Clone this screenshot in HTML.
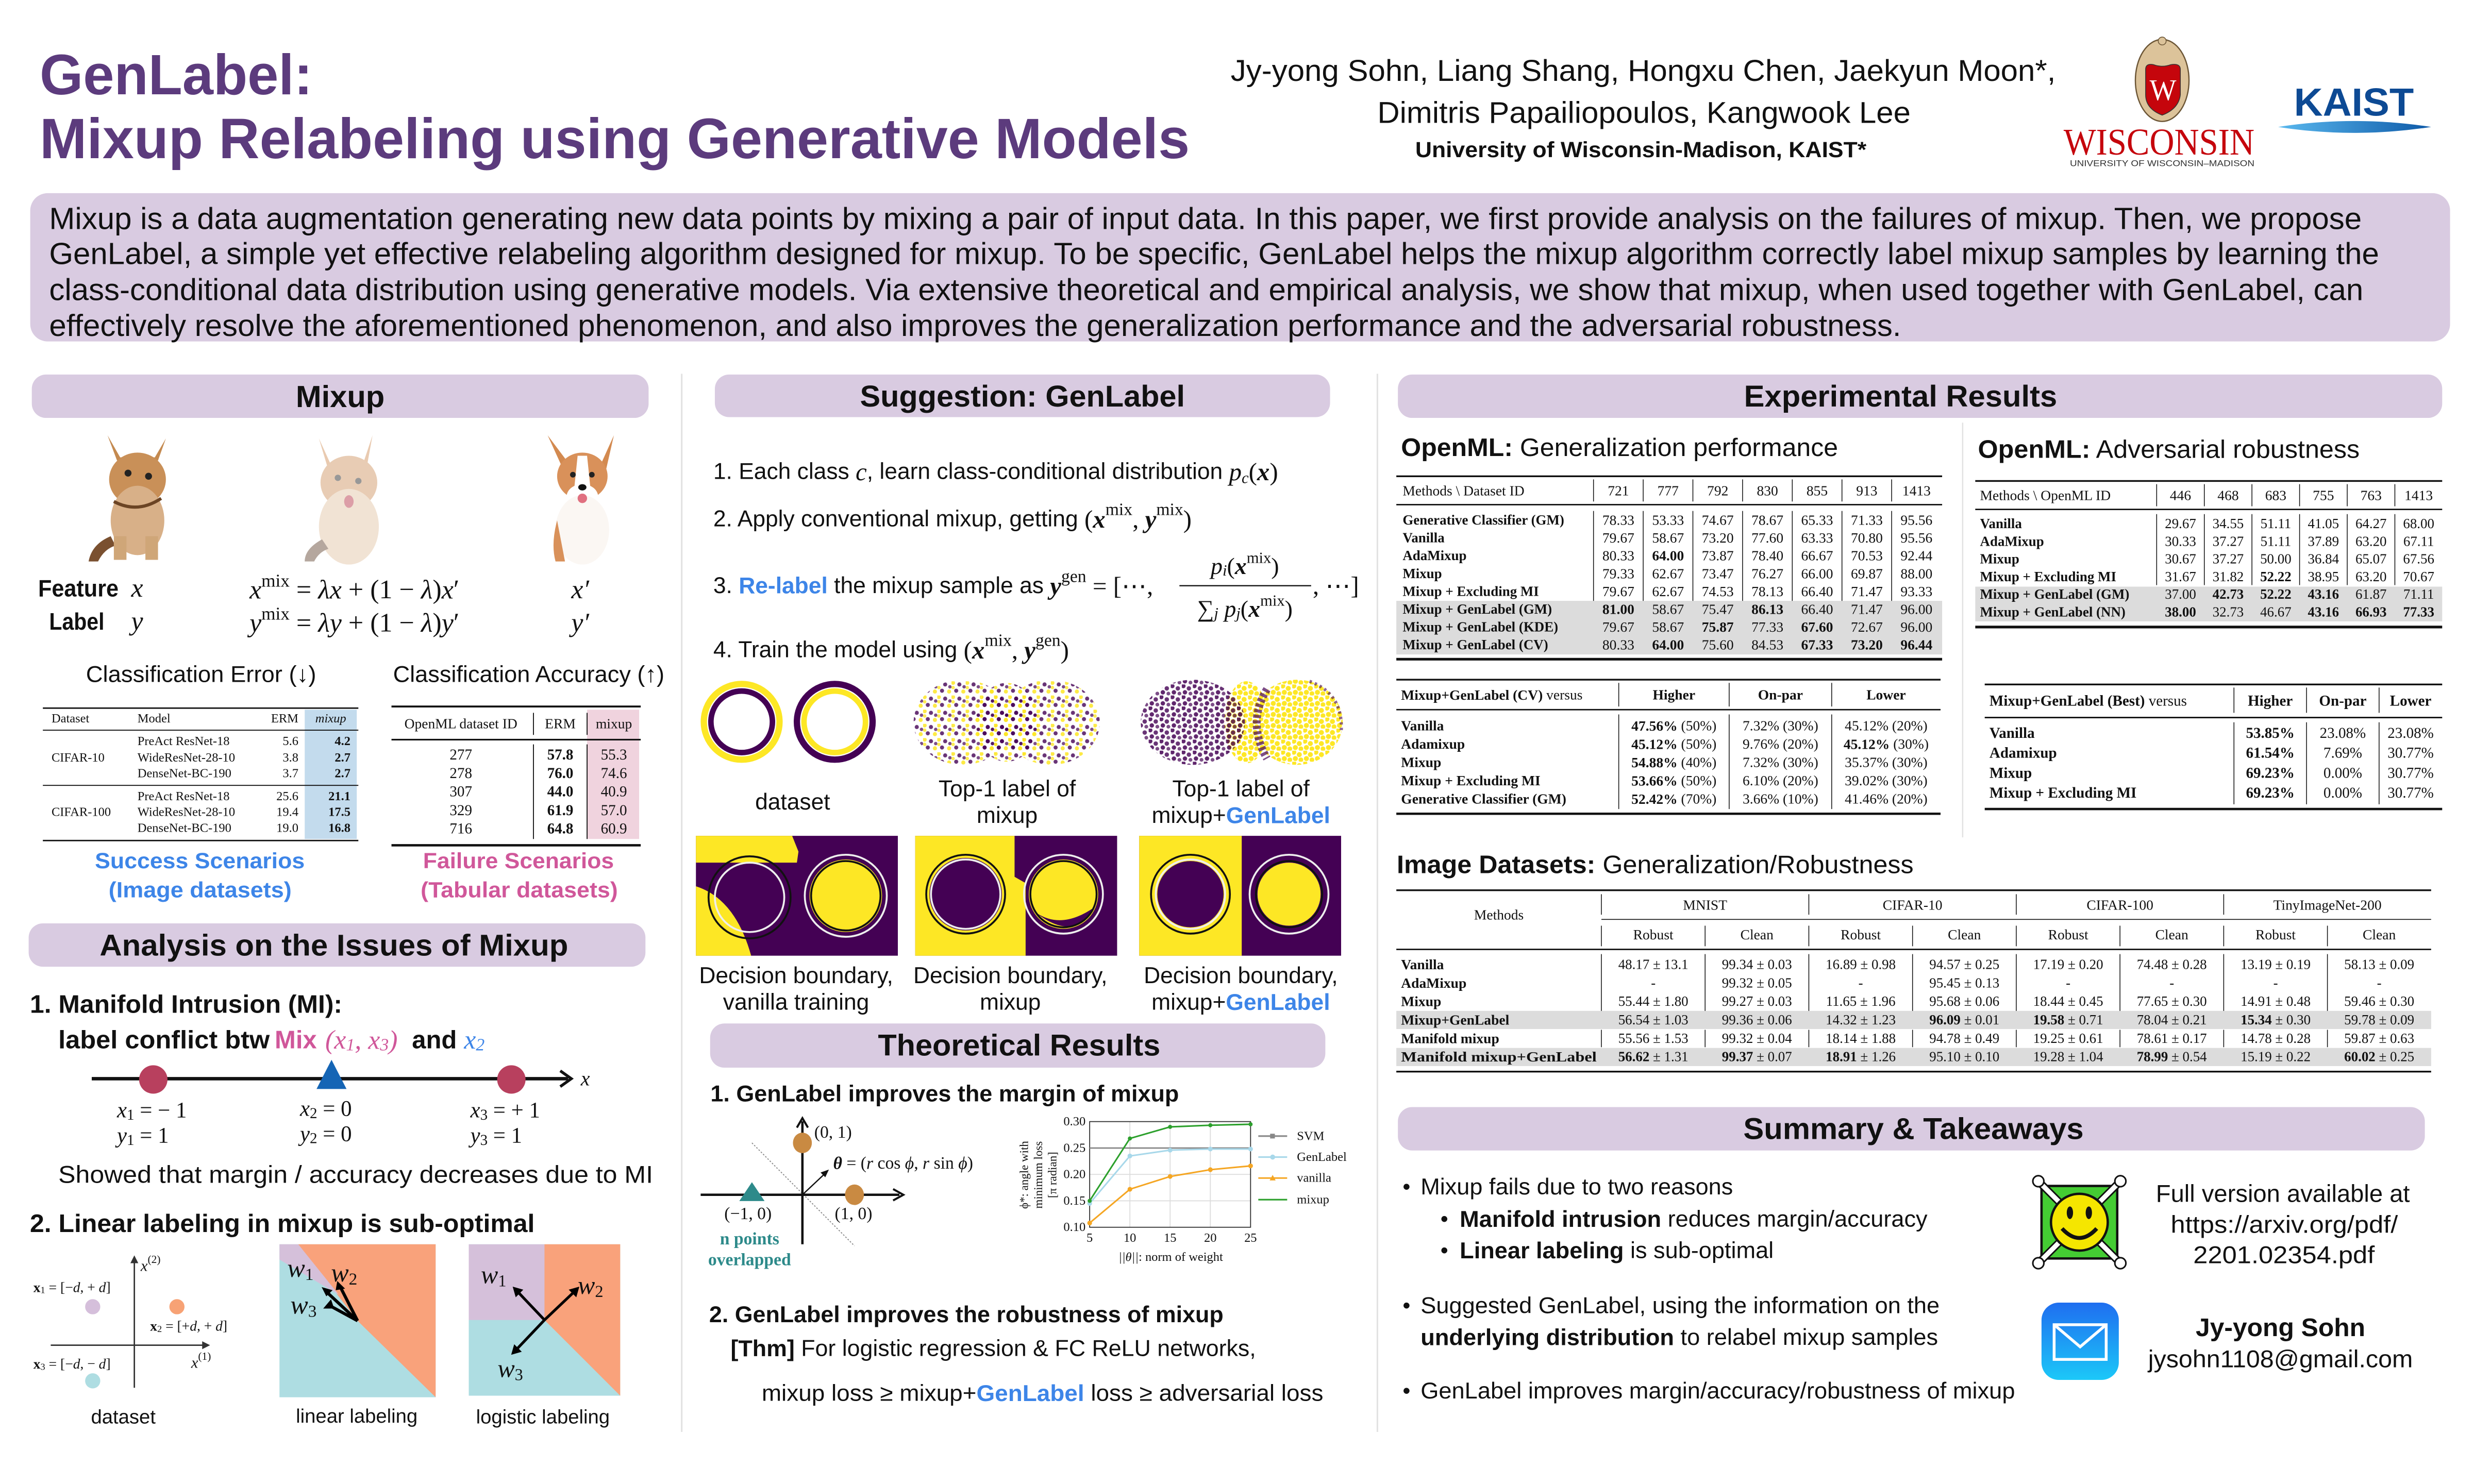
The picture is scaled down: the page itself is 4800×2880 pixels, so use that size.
<!DOCTYPE html>
<html><head><meta charset="utf-8">
<style>
html,body{margin:0;padding:0;background:#fff;}
svg{display:block;}
text{font-family:"Liberation Sans",sans-serif;fill:#111;dominant-baseline:central;}
.s{font-family:"Liberation Serif",serif;}
.b{font-weight:bold;}
.i{font-style:italic;}
.m{text-anchor:middle;}
.e{text-anchor:end;}
</style></head><body>
<svg width="4800" height="2880" viewBox="0 0 1568 941" xmlns="http://www.w3.org/2000/svg">
<defs>
<pattern id="pm" width="9" height="9" patternUnits="userSpaceOnUse">
<circle cx="1" cy="1" r="1.3" fill="#fde725" opacity=".85"/><circle cx="5" cy="2" r="1.3" fill="#440154" opacity=".8"/>
<circle cx="3" cy="6" r="1.3" fill="#440154" opacity=".8"/><circle cx="7.5" cy="6.5" r="1.3" fill="#fde725" opacity=".85"/>
<circle cx="8" cy="3.5" r="1.1" fill="#440154" opacity=".7"/><circle cx="1" cy="4" r="1.1" fill="#fde725" opacity=".8"/></pattern>
<pattern id="pp" width="7" height="7" patternUnits="userSpaceOnUse">
<circle cx="1" cy="1" r="1.4" fill="#440154" opacity=".85"/><circle cx="4.5" cy="2.5" r="1.4" fill="#440154" opacity=".8"/>
<circle cx="2" cy="5" r="1.4" fill="#440154" opacity=".85"/><circle cx="5.5" cy="5.8" r="1.2" fill="#440154" opacity=".7"/></pattern>
<pattern id="py" width="7" height="7" patternUnits="userSpaceOnUse">
<circle cx="1" cy="1" r="1.6" fill="#fde725"/><circle cx="4.5" cy="2.5" r="1.6" fill="#fde725"/>
<circle cx="2" cy="5" r="1.6" fill="#fde725"/><circle cx="5.5" cy="5.8" r="1.5" fill="#fde725"/></pattern>
<linearGradient id="mg" x1="0" y1="0" x2="0" y2="1"><stop offset="0" stop-color="#1f6ef0"/><stop offset="1" stop-color="#1cc8f8"/></linearGradient>
<linearGradient id="kg" x1="0" y1="0" x2="1" y2="0"><stop offset="0" stop-color="#5ab8ee"/><stop offset="1" stop-color="#0e5aa8"/></linearGradient>
</defs>

<!-- Title -->
<text x="25" y="47.5" class="b" font-size="36" fill="#5c3b7d" style="fill:#5c3b7d" textLength="173" lengthAdjust="spacingAndGlyphs">GenLabel:</text>
<text x="25" y="88" class="b" font-size="36" style="fill:#5c3b7d" textLength="729" lengthAdjust="spacingAndGlyphs">Mixup Relabeling using Generative Models</text>
<text x="780" y="45" font-size="19" textLength="523" lengthAdjust="spacingAndGlyphs">Jy-yong Sohn, Liang Shang, Hongxu Chen, Jaekyun Moon*,</text>
<text x="873" y="71.5" font-size="19" textLength="338" lengthAdjust="spacingAndGlyphs">Dimitris Papailiopoulos, Kangwook Lee</text>
<text x="897" y="95" font-size="14" class="b" textLength="286" lengthAdjust="spacingAndGlyphs">University of Wisconsin-Madison, KAIST*</text>

<!-- Wisconsin logo -->
<ellipse cx="1370.5" cy="51" rx="17" ry="26" fill="#dcc39a" stroke="#6b5535" stroke-width="0.8"/>
<circle cx="1370.5" cy="26" r="2.5" fill="#dcc39a" stroke="#6b5535" stroke-width="0.5"/>
<path d="M1360,44 Q1360,40 1365,41 Q1370.5,43 1376,41 Q1382,40 1382,44 L1382,60 Q1381,69 1370.5,73 Q1360,69 1360,60 Z" fill="#c5050c" stroke="#333" stroke-width="0.5"/>
<text x="1371" y="57" class="s m" font-size="19" style="fill:#fff" textLength="17" lengthAdjust="spacingAndGlyphs">W</text>
<text x="1308" y="90" class="s" font-size="24" style="fill:#c5050c" textLength="121" lengthAdjust="spacingAndGlyphs">WISCONSIN</text>
<text x="1312" y="103.5" font-size="5.5" style="fill:#333" textLength="117" lengthAdjust="spacingAndGlyphs">UNIVERSITY OF WISCONSIN–MADISON</text>
<text x="1454" y="65" class="b" font-size="25" style="fill:#0d4a94" textLength="76" lengthAdjust="spacingAndGlyphs">KAIST</text>
<path d="M1444,80.5 Q1492,73 1541,80.5 Q1492,88 1444,80.5 Z" fill="url(#kg)"/>

<!-- Abstract -->
<rect x="19" y="122.5" width="1534" height="94" rx="11" fill="#d9cbe1"/>
<text x="31" y="138.6" font-size="19.5" textLength="1466" lengthAdjust="spacingAndGlyphs">Mixup is a data augmentation generating new data points by mixing a pair of input data. In this paper, we first provide analysis on the failures of mixup. Then, we propose</text>
<text x="31" y="160.8" font-size="19.5" textLength="1477" lengthAdjust="spacingAndGlyphs">GenLabel, a simple yet effective relabeling algorithm designed for mixup. To be specific, GenLabel helps the mixup algorithm correctly label mixup samples by learning the</text>
<text x="31" y="183.6" font-size="19.5" textLength="1467" lengthAdjust="spacingAndGlyphs">class-conditional data distribution using generative models. Via extensive theoretical and empirical analysis, we show that mixup, when used together with GenLabel, can</text>
<text x="31" y="206.4" font-size="19.5" textLength="1174" lengthAdjust="spacingAndGlyphs">effectively resolve the aforementioned phenomenon, and also improves the generalization performance and the adversarial robustness.</text>

<!-- column dividers -->
<line x1="432" y1="237" x2="432" y2="908" stroke="#e2e2e2" stroke-width="1"/>
<line x1="873" y1="237" x2="873" y2="908" stroke="#e2e2e2" stroke-width="1"/>
<line x1="1244" y1="268" x2="1244" y2="531" stroke="#e2e2e2" stroke-width="0.8"/>

<!-- ============ COLUMN 1 ============ -->
<rect x="20" y="237.5" width="391" height="27.5" rx="9" fill="#d9cbe1"/>
<text x="215.5" y="251.5" class="b m" font-size="19.5">Mixup</text>

<!-- cat -->
<g>
<path d="M68,276 L74,292 L100,292 L105,278 L98,290 L76,290 Z" fill="#c48a50"/>
<ellipse cx="87" cy="304" rx="18" ry="17" fill="#c99058"/>
<ellipse cx="87" cy="330" rx="17" ry="22" fill="#d8b088"/>
<path d="M70,340 Q58,345 56,356 L62,356 Q66,348 73,346 Z" fill="#7a5030"/>
<rect x="72" y="340" width="8" height="15" fill="#cfa678"/><rect x="92" y="340" width="8" height="15" fill="#cfa678"/>
<circle cx="81" cy="300" r="2.2" fill="#222"/><circle cx="94" cy="302" r="2.2" fill="#222"/>
<path d="M72,318 Q87,326 102,316" stroke="#6b4424" stroke-width="2" fill="none"/>
</g>
<!-- mixed -->
<g opacity="0.55">
<path d="M202,278 L212,300 L228,300 L236,276 L232,298 L208,298 Z" fill="#d8a070"/>
<ellipse cx="221" cy="306" rx="18" ry="17" fill="#d6a478"/>
<ellipse cx="221" cy="334" rx="19" ry="24" fill="#e6cdb2"/>
<path d="M204,342 Q193,348 193,356 L199,356 Q202,350 208,348 Z" fill="#7a6050"/>
<circle cx="214" cy="303" r="2" fill="#444"/><circle cx="227" cy="305" r="2" fill="#444"/>
<ellipse cx="221" cy="318" rx="3" ry="4" fill="#c05060"/>
</g>
<!-- dog -->
<g>
<path d="M347,276 L357,298 L362,296 Z" fill="#d38a50"/><path d="M389,276 L380,296 L384,298 Z" fill="#d38a50"/>
<ellipse cx="369" cy="302" rx="16" ry="15" fill="#d9915a"/>
<path d="M366,289 L372,289 L375,318 L363,318 Z" fill="#fff"/>
<ellipse cx="369" cy="315" rx="10" ry="8" fill="#fff"/>
<ellipse cx="369" cy="336" rx="17" ry="22" fill="#fbf7f3"/>
<path d="M353,330 Q349,345 352,356 L358,356 Z" fill="#d9915a"/>
<circle cx="363" cy="301" r="1.8" fill="#222"/><circle cx="375" cy="301" r="1.8" fill="#222"/>
<ellipse cx="369" cy="309" rx="2.6" ry="2" fill="#111"/>
<ellipse cx="369" cy="316" rx="3" ry="3" fill="#e07080"/>
</g>

<text x="24" y="373" class="b" font-size="15" textLength="51" lengthAdjust="spacingAndGlyphs">Feature</text>
<text x="31" y="394" class="b" font-size="15" textLength="35" lengthAdjust="spacingAndGlyphs">Label</text>
<text x="83" y="373" class="s i" font-size="17">x</text>
<text x="83" y="394" class="s i" font-size="17">y</text>
<text x="158" y="374" class="s" font-size="17"><tspan class="i">x</tspan><tspan dy="-6" font-size="11.5">mix</tspan><tspan dy="6"> = </tspan><tspan class="i">λx</tspan> + (1 − <tspan class="i">λ</tspan>)<tspan class="i">x</tspan>′</text>
<text x="158" y="395" class="s" font-size="17"><tspan class="i">y</tspan><tspan dy="-6" font-size="11.5">mix</tspan><tspan dy="6"> = </tspan><tspan class="i">λy</tspan> + (1 − <tspan class="i">λ</tspan>)<tspan class="i">y</tspan>′</text>
<text x="362" y="374" class="s i" font-size="17">x′</text>
<text x="362" y="395" class="s i" font-size="17">y′</text>

<text x="54.3" y="427.7" font-size="14.5" textLength="146" lengthAdjust="spacingAndGlyphs">Classification Error (↓)</text>
<text x="249" y="427.7" font-size="14.5" textLength="172" lengthAdjust="spacingAndGlyphs">Classification Accuracy (↑)</text>

<!-- left small table -->
<rect x="193" y="450" width="33" height="82" fill="#c3dbed"/>
<line x1="27" y1="449" x2="227" y2="449" stroke="#111" stroke-width="0.9"/>
<line x1="27" y1="463" x2="227" y2="463" stroke="#111" stroke-width="0.6"/>
<line x1="27" y1="498" x2="227" y2="498" stroke="#111" stroke-width="0.6"/>
<line x1="27" y1="533" x2="227" y2="533" stroke="#111" stroke-width="0.9"/>
<g class="s" font-size="8">
<text x="32.5" y="455.7" class="s" font-size="8">Dataset</text>
<text x="87" y="455.7" class="s" font-size="8">Model</text>
<text x="189" y="455.7" class="s e" font-size="8">ERM</text>
<text x="209.5" y="455.7" class="s i m" font-size="8">mixup</text>
<text x="32.5" y="480.5" class="s" font-size="8">CIFAR-10</text>
<text x="32.5" y="515" class="s" font-size="8">CIFAR-100</text>
<text x="87" y="470" class="s" font-size="8">PreAct ResNet-18</text>
<text x="87" y="480.5" class="s" font-size="8">WideResNet-28-10</text>
<text x="87" y="490.5" class="s" font-size="8">DenseNet-BC-190</text>
<text x="87" y="505" class="s" font-size="8">PreAct ResNet-18</text>
<text x="87" y="515" class="s" font-size="8">WideResNet-28-10</text>
<text x="87" y="525" class="s" font-size="8">DenseNet-BC-190</text>
<text x="189" y="470" class="s e" font-size="8">5.6</text>
<text x="189" y="480.5" class="s e" font-size="8">3.8</text>
<text x="189" y="490.5" class="s e" font-size="8">3.7</text>
<text x="189" y="505" class="s e" font-size="8">25.6</text>
<text x="189" y="515" class="s e" font-size="8">19.4</text>
<text x="189" y="525" class="s e" font-size="8">19.0</text>
<text x="222" y="470" class="s e b" font-size="8">4.2</text>
<text x="222" y="480.5" class="s e b" font-size="8">2.7</text>
<text x="222" y="490.5" class="s e b" font-size="8">2.7</text>
<text x="222" y="505" class="s e b" font-size="8">21.1</text>
<text x="222" y="515" class="s e b" font-size="8">17.5</text>
<text x="222" y="525" class="s e b" font-size="8">16.8</text>
</g>

<!-- right small table -->
<rect x="372" y="450" width="33" height="82" fill="#f0d3de"/>
<line x1="248" y1="448" x2="406" y2="448" stroke="#111" stroke-width="1.2"/>
<line x1="248" y1="469" x2="406" y2="469" stroke="#111" stroke-width="1"/>
<line x1="248" y1="536" x2="406" y2="536" stroke="#111" stroke-width="1.5"/>
<line x1="338" y1="452" x2="338" y2="466" stroke="#111" stroke-width="0.6"/>
<line x1="372" y1="452" x2="372" y2="466" stroke="#111" stroke-width="0.6"/>
<line x1="338" y1="472" x2="338" y2="532" stroke="#111" stroke-width="0.6"/>
<line x1="372" y1="472" x2="372" y2="532" stroke="#111" stroke-width="0.6"/>
<text x="292" y="458.7" class="s m" font-size="9">OpenML dataset ID</text>
<text x="355" y="458.7" class="s m" font-size="9">ERM</text>
<text x="389" y="458.7" class="s m" font-size="9">mixup</text>
<text x="292" y="478.6" class="s m" font-size="9.5">277</text><text x="355" y="478.6" class="s m b" font-size="9.5">57.8</text><text x="389" y="478.6" class="s m" font-size="9.5">55.3</text>
<text x="292" y="490.4" class="s m" font-size="9.5">278</text><text x="355" y="490.4" class="s m b" font-size="9.5">76.0</text><text x="389" y="490.4" class="s m" font-size="9.5">74.6</text>
<text x="292" y="502" class="s m" font-size="9.5">307</text><text x="355" y="502" class="s m b" font-size="9.5">44.0</text><text x="389" y="502" class="s m" font-size="9.5">40.9</text>
<text x="292" y="514" class="s m" font-size="9.5">329</text><text x="355" y="514" class="s m b" font-size="9.5">61.9</text><text x="389" y="514" class="s m" font-size="9.5">57.0</text>
<text x="292" y="525.6" class="s m" font-size="9.5">716</text><text x="355" y="525.6" class="s m b" font-size="9.5">64.8</text><text x="389" y="525.6" class="s m" font-size="9.5">60.9</text>

<text x="60" y="546" class="b" font-size="14" style="fill:#3d85e8" textLength="133" lengthAdjust="spacingAndGlyphs">Success Scenarios</text>
<text x="68.7" y="564.5" class="b" font-size="14" style="fill:#3d85e8" textLength="116" lengthAdjust="spacingAndGlyphs">(Image datasets)</text>
<text x="268" y="546" class="b" font-size="14" style="fill:#d0579a" textLength="121" lengthAdjust="spacingAndGlyphs">Failure Scenarios</text>
<text x="266.5" y="564.5" class="b" font-size="14" style="fill:#d0579a" textLength="125" lengthAdjust="spacingAndGlyphs">(Tabular datasets)</text>

<!-- Analysis -->
<rect x="18" y="585.5" width="391" height="27.5" rx="9" fill="#d9cbe1"/>
<text x="63" y="599.5" class="b" font-size="19" textLength="297" lengthAdjust="spacingAndGlyphs">Analysis on the Issues of Mixup</text>
<text x="18.8" y="637" class="b" font-size="16" textLength="198" lengthAdjust="spacingAndGlyphs">1. Manifold Intrusion (MI):</text>
<text x="36.8" y="659.5" class="b" font-size="16" textLength="134" lengthAdjust="spacingAndGlyphs">label conflict btw</text>
<text x="174" y="659.5" class="b" font-size="16" style="fill:#d0579a">Mix</text>
<text x="206" y="659.5" class="s i" font-size="17" style="fill:#d0579a">(x<tspan font-size="11" dy="3">1</tspan><tspan dy="-3">, x</tspan><tspan font-size="11" dy="3">3</tspan><tspan dy="-3">)</tspan></text>
<text x="261" y="659.5" class="b" font-size="16">and</text>
<text x="294" y="659.5" class="s i" font-size="17" style="fill:#3d85e8">x<tspan font-size="11" dy="3">2</tspan></text>

<line x1="58" y1="684" x2="360" y2="684" stroke="#111" stroke-width="2.2"/>
<path d="M355,679 L362,684 L355,689" stroke="#111" stroke-width="1.8" fill="none"/>
<text x="368" y="684" class="s i" font-size="13">x</text>
<circle cx="97" cy="684.5" r="9" fill="#b8405e"/>
<circle cx="324" cy="684.5" r="9" fill="#b8405e"/>
<path d="M210,672 L219.5,690.5 L200.5,690.5 Z" fill="#1565b5"/>
<text x="74" y="704" class="s" font-size="14"><tspan class="i">x</tspan><tspan font-size="9.5" dy="3">1</tspan><tspan dy="-3"> = − 1</tspan></text>
<text x="74" y="720" class="s" font-size="14"><tspan class="i">y</tspan><tspan font-size="9.5" dy="3">1</tspan><tspan dy="-3"> = 1</tspan></text>
<text x="190" y="703" class="s" font-size="14"><tspan class="i">x</tspan><tspan font-size="9.5" dy="3">2</tspan><tspan dy="-3"> = 0</tspan></text>
<text x="190" y="719" class="s" font-size="14"><tspan class="i">y</tspan><tspan font-size="9.5" dy="3">2</tspan><tspan dy="-3"> = 0</tspan></text>
<text x="298" y="704" class="s" font-size="14"><tspan class="i">x</tspan><tspan font-size="9.5" dy="3">3</tspan><tspan dy="-3"> = + 1</tspan></text>
<text x="298" y="720" class="s" font-size="14"><tspan class="i">y</tspan><tspan font-size="9.5" dy="3">3</tspan><tspan dy="-3"> = 1</tspan></text>
<text x="36.8" y="745" font-size="15.5" textLength="377" lengthAdjust="spacingAndGlyphs">Showed that margin / accuracy decreases due to MI</text>
<text x="18.8" y="776" class="b" font-size="16" textLength="320" lengthAdjust="spacingAndGlyphs">2. Linear labeling in mixup is sub-optimal</text>

<!-- dataset diagram -->
<line x1="85" y1="880" x2="85" y2="799" stroke="#333" stroke-width="0.9"/>
<path d="M82.5,801 L85,796 L87.5,801 Z" fill="#333"/>
<line x1="32" y1="853" x2="130" y2="853" stroke="#333" stroke-width="0.9"/>
<path d="M128,850.5 L133,853 L128,855.5 Z" fill="#333"/>
<circle cx="58.6" cy="828.6" r="4.8" fill="#d5bfdb"/>
<circle cx="112" cy="828.6" r="4.8" fill="#f7a275"/>
<circle cx="58.6" cy="875.6" r="4.8" fill="#aedde2"/>
<text x="89" y="802.6" class="s i" font-size="10">x<tspan font-size="7" dy="-4" font-style="normal">(2)</tspan></text>
<text x="121" y="864" class="s i" font-size="10">x<tspan font-size="7" dy="-4" font-style="normal">(1)</tspan></text>
<text x="21" y="816" class="s" font-size="9"><tspan class="b">x</tspan><tspan font-size="6" dy="2">1</tspan><tspan dy="-2"> = [−</tspan><tspan class="i">d</tspan>, + <tspan class="i">d</tspan>]</text>
<text x="95" y="840.6" class="s" font-size="9"><tspan class="b">x</tspan><tspan font-size="6" dy="2">2</tspan><tspan dy="-2"> = [+</tspan><tspan class="i">d</tspan>, + <tspan class="i">d</tspan>]</text>
<text x="21" y="864.6" class="s" font-size="9"><tspan class="b">x</tspan><tspan font-size="6" dy="2">3</tspan><tspan dy="-2"> = [−</tspan><tspan class="i">d</tspan>, − <tspan class="i">d</tspan>]</text>
<text x="78" y="898.5" class="m" font-size="12.5">dataset</text>

<!-- linear labeling -->
<g transform="translate(177,789) scale(0.99,0.97)">
<rect x="0" y="0" width="100" height="100" fill="#aedde2"/>
<path d="M12,0 L100,0 L100,100 L50,50 Z" fill="#f9a27b"/>
<path d="M0,0 L12,0 L38,33 L0,10 Z" fill="#d5c0da"/>
<g stroke="#000" stroke-width="2" fill="none">
<line x1="50" y1="50" x2="30" y2="31"/><line x1="50" y1="50" x2="39" y2="28"/><line x1="50" y1="50" x2="32" y2="40"/></g>
<path d="M27,28 L34,30 L30,34 Z M37,24 L42,29 L36,30 Z M28,42 L33,36 L35,42 Z" fill="#000"/>
<text x="5" y="16" class="s i" font-size="17">w<tspan font-size="11" dy="4" font-style="normal">1</tspan></text>
<text x="33" y="19" class="s i" font-size="17">w<tspan font-size="11" dy="4" font-style="normal">2</tspan></text>
<text x="7" y="40" class="s i" font-size="17">w<tspan font-size="11" dy="4" font-style="normal">3</tspan></text>
</g>
<text x="226" y="898" class="m" font-size="12.5">linear labeling</text>

<!-- logistic labeling -->
<g transform="translate(297,789) scale(0.96,0.96)">
<rect x="0" y="0" width="100" height="100" fill="#aedde2"/>
<rect x="0" y="0" width="50" height="50" fill="#d5c0da"/>
<path d="M50,0 L100,0 L100,100 L50,50 Z" fill="#f9a27b"/>
<g stroke="#000" stroke-width="1.8"><line x1="50" y1="50" x2="32" y2="31"/><line x1="50" y1="50" x2="70" y2="31"/><line x1="50" y1="50" x2="31" y2="70"/></g>
<path d="M29,28 L36,30 L31,35 Z M73,28 L66,30 L71,35 Z M28,73 L30,66 L35,71 Z" fill="#000"/>
<text x="8" y="20" class="s i" font-size="17">w<tspan font-size="11" dy="4" font-style="normal">1</tspan></text>
<text x="72" y="27" class="s i" font-size="17">w<tspan font-size="11" dy="4" font-style="normal">2</tspan></text>
<text x="19" y="82" class="s i" font-size="17">w<tspan font-size="11" dy="4" font-style="normal">3</tspan></text>
</g>
<text x="344" y="898.5" class="m" font-size="12.5">logistic labeling</text>

<!-- ============ COLUMN 2 ============ -->
<rect x="453" y="237.5" width="390" height="27" rx="9" fill="#d9cbe1"/>
<text x="545" y="251.5" class="b" font-size="19" textLength="206" lengthAdjust="spacingAndGlyphs">Suggestion: GenLabel</text>

<text x="452" y="299" font-size="14.5">1. Each class <tspan class="s i" font-size="16">c</tspan>, learn class-conditional distribution <tspan class="s i" font-size="16">p</tspan><tspan class="s i" font-size="10" dy="4">c</tspan><tspan class="s" font-size="16" dy="-4">(</tspan><tspan class="s i b" font-size="16">x</tspan><tspan class="s" font-size="16">)</tspan></text>
<text x="452" y="329" font-size="14.5">2. Apply conventional mixup, getting <tspan class="s" font-size="16">(</tspan><tspan class="s i b" font-size="16">x</tspan><tspan class="s" font-size="11" dy="-6">mix</tspan><tspan class="s" font-size="16" dy="6">, </tspan><tspan class="s i b" font-size="16">y</tspan><tspan class="s" font-size="11" dy="-6">mix</tspan><tspan class="s" font-size="16" dy="6">)</tspan></text>
<text x="452" y="371.4" font-size="14.5">3. <tspan class="b" style="fill:#3d85e8">Re-label</tspan> the mixup sample as <tspan class="s i b" font-size="16">y</tspan><tspan class="s" font-size="11" dy="-6">gen</tspan><tspan class="s" font-size="16" dy="6"> = [⋯,</tspan></text>
<text x="789" y="358.7" class="s m" font-size="15"><tspan class="i">p</tspan><tspan class="i" font-size="10" dy="3">i</tspan><tspan dy="-3">(</tspan><tspan class="i b">x</tspan><tspan font-size="10" dy="-5">mix</tspan><tspan dy="5">)</tspan></text>
<line x1="747.5" y1="371.4" x2="831" y2="371.4" stroke="#111" stroke-width="0.8"/>
<text x="789" y="385.8" class="s m" font-size="15">∑<tspan class="i" font-size="10" dy="3">j</tspan><tspan dy="-3"> </tspan><tspan class="i">p</tspan><tspan class="i" font-size="10" dy="3">j</tspan><tspan dy="-3">(</tspan><tspan class="i b">x</tspan><tspan font-size="10" dy="-5">mix</tspan><tspan dy="5">)</tspan></text>
<text x="832" y="371.4" class="s" font-size="16">, ⋯]</text>
<text x="452" y="412" font-size="14.5">4. Train the model using <tspan class="s" font-size="16">(</tspan><tspan class="s i b" font-size="16">x</tspan><tspan class="s" font-size="11" dy="-6">mix</tspan><tspan class="s" font-size="16" dy="6">, </tspan><tspan class="s i b" font-size="16">y</tspan><tspan class="s" font-size="11" dy="-6">gen</tspan><tspan class="s" font-size="16" dy="6">)</tspan></text>

<!-- dataset rings -->
<circle cx="470" cy="457.7" r="24" fill="none" stroke="#fde725" stroke-width="4"/>
<circle cx="470" cy="457.7" r="19.5" fill="none" stroke="#440154" stroke-width="3.5"/>
<circle cx="529" cy="457.7" r="24" fill="none" stroke="#440154" stroke-width="4"/>
<circle cx="529" cy="457.7" r="19.5" fill="none" stroke="#fde725" stroke-width="3.5"/>
<!-- mixup scatter -->
<ellipse cx="610" cy="458" rx="31" ry="27" fill="url(#pm)"/>
<ellipse cx="666" cy="458" rx="31" ry="27" fill="url(#pm)"/>
<ellipse cx="638" cy="458" rx="20" ry="25" fill="url(#pm)"/>
<!-- genlabel scatter -->
<ellipse cx="790" cy="458" rx="14" ry="26" fill="url(#py)"/>
<ellipse cx="756" cy="458" rx="33" ry="27" fill="url(#pp)"/>
<ellipse cx="822" cy="458" rx="29" ry="27" fill="url(#py)"/>
<path d="M803,437 Q790,458 803,481" stroke="#440154" stroke-width="5" fill="none" opacity=".7" stroke-dasharray="2 1.5"/>
<path d="M830,432 Q852,440 850,465" stroke="#440154" stroke-width="2" fill="none" opacity=".6" stroke-dasharray="1.5 2"/>

<text x="502.3" y="508.5" class="m" font-size="14.5">dataset</text>
<text x="638.3" y="500.3" class="m" font-size="14.5">Top-1 label of</text>
<text x="638.3" y="517" class="m" font-size="14.5">mixup</text>
<text x="786.5" y="500.3" class="m" font-size="14.5">Top-1 label of</text>
<text x="786.5" y="517" class="m" font-size="14.5">mixup+<tspan class="b" style="fill:#3d85e8">GenLabel</tspan></text>

<!-- decision boxes -->
<g transform="translate(441,530)">
<rect width="128" height="76" fill="#440154"/>
<path d="M0,0 L61,0 L65,10 L64,17 L0,17 Z" fill="#fde725"/>
<path d="M0,32 Q25,40 35,76 L0,76 Z" fill="#fde725"/>
<circle cx="95" cy="38" r="23" fill="#fde725"/>
<circle cx="34" cy="39" r="26" fill="none" stroke="#111" stroke-width="1.2"/>
<circle cx="34" cy="39" r="22" fill="none" stroke="#eee" stroke-width="1.2"/>
<circle cx="95" cy="38" r="26" fill="none" stroke="#eee" stroke-width="1.2"/>
<circle cx="95" cy="38" r="22" fill="none" stroke="#111" stroke-width="1.2"/>
</g>
<g transform="translate(580,530)">
<rect width="128" height="76" fill="#440154"/>
<path d="M0,0 L63,0 L63,26 L70,30 L70,76 L0,76 Z" fill="#fde725"/>
<circle cx="32" cy="37" r="23" fill="#440154"/>
<circle cx="94" cy="37" r="22" fill="#fde725"/>
<path d="M72,45 Q90,62 114,45 Q100,70 72,45 Z" fill="#440154"/>
<circle cx="32" cy="37" r="25" fill="none" stroke="#111" stroke-width="1.2"/>
<circle cx="32" cy="37" r="22" fill="none" stroke="#eee" stroke-width="1.2"/>
<circle cx="94" cy="37" r="25" fill="none" stroke="#eee" stroke-width="1.2"/>
<circle cx="94" cy="37" r="21" fill="none" stroke="#111" stroke-width="1.2"/>
</g>
<g transform="translate(722,530)">
<rect width="128" height="76" fill="#440154"/>
<rect width="65" height="76" fill="#fde725"/>
<circle cx="32.5" cy="37" r="21" fill="#440154"/>
<circle cx="95" cy="37" r="20" fill="#fde725"/>
<circle cx="32.5" cy="37" r="25" fill="none" stroke="#111" stroke-width="1.2"/>
<circle cx="32.5" cy="37" r="22" fill="none" stroke="#eee" stroke-width="1.2"/>
<circle cx="95" cy="37" r="25" fill="none" stroke="#eee" stroke-width="1.2"/>
<circle cx="95" cy="37" r="21" fill="none" stroke="#111" stroke-width="1.2"/>
</g>
<text x="504.5" y="618.7" class="m" font-size="14.5">Decision boundary,</text>
<text x="504.5" y="635.5" class="m" font-size="14.5">vanilla training</text>
<text x="640.3" y="618.7" class="m" font-size="14.5">Decision boundary,</text>
<text x="640.3" y="635.5" class="m" font-size="14.5">mixup</text>
<text x="786.4" y="618.7" class="m" font-size="14.5">Decision boundary,</text>
<text x="786.4" y="635.5" class="m" font-size="14.5">mixup+<tspan class="b" style="fill:#3d85e8">GenLabel</tspan></text>

<!-- Theoretical results -->
<rect x="450" y="649" width="390" height="28" rx="9" fill="#d9cbe1"/>
<text x="556.4" y="663" class="b" font-size="19" textLength="179" lengthAdjust="spacingAndGlyphs">Theoretical Results</text>
<text x="450.2" y="693.7" class="b" font-size="14.5" textLength="297" lengthAdjust="spacingAndGlyphs">1. GenLabel improves the margin of mixup</text>

<!-- margin diagram -->
<line x1="476.5" y1="724.7" x2="541.5" y2="790" stroke="#888" stroke-width="0.6" stroke-dasharray="1 1"/>
<line x1="444" y1="757.6" x2="570" y2="757.6" stroke="#111" stroke-width="1.5"/>
<path d="M566,754 L572.5,757.6 L566,761.2" stroke="#111" stroke-width="1.3" fill="none"/>
<line x1="508.5" y1="789" x2="508.5" y2="711" stroke="#111" stroke-width="1.5"/>
<path d="M505,715 L508.5,709 L512,715" stroke="#111" stroke-width="1.3" fill="none"/>
<line x1="508.5" y1="757.6" x2="523.5" y2="743.5" stroke="#111" stroke-width="0.8"/>
<path d="M525.3,741.6 L520,743.5 L523,746.5 Z" fill="#111"/>
<ellipse cx="508.5" cy="724.7" rx="6" ry="6.5" fill="#c98a42"/>
<ellipse cx="541.5" cy="757.6" rx="6" ry="6.5" fill="#c98a42"/>
<path d="M476.5,749.6 L484.5,761.6 L468.5,761.6 Z" fill="#2d8a8a"/>
<text x="516" y="718" class="s" font-size="11">(0, 1)</text>
<text x="528" y="737.6" class="s" font-size="11"><tspan class="i b">θ</tspan> = (<tspan class="i">r</tspan> cos <tspan class="i">ϕ</tspan>, <tspan class="i">r</tspan> sin <tspan class="i">ϕ</tspan>)</text>
<text x="459" y="769.6" class="s" font-size="11">(−1, 0)</text>
<text x="529" y="769.6" class="s" font-size="11">(1, 0)</text>
<text x="475" y="785.7" class="s m b" font-size="11" style="fill:#2d8a8a">n points</text>
<text x="475" y="798.8" class="s m b" font-size="11" style="fill:#2d8a8a">overlapped</text>

<!-- chart -->
<g stroke="#ddd" stroke-width="0.6">
<line x1="690.6" y1="727.95" x2="792.6" y2="727.95"/><line x1="690.6" y1="744.7" x2="792.6" y2="744.7"/><line x1="690.6" y1="761.45" x2="792.6" y2="761.45"/>
<line x1="716.1" y1="711.2" x2="716.1" y2="778.2"/><line x1="741.6" y1="711.2" x2="741.6" y2="778.2"/><line x1="767.1" y1="711.2" x2="767.1" y2="778.2"/>
</g>
<rect x="690.6" y="711.2" width="102" height="67" fill="none" stroke="#333" stroke-width="0.6"/>
<polyline points="690.6,727.95 716.1,727.95 741.6,727.95 767.1,727.95 792.6,727.95" fill="none" stroke="#888" stroke-width="0.9"/>
<polyline points="690.6,763.1 716.1,733 741.6,729.3 767.1,728.6 792.6,728.6" fill="none" stroke="#a8d8ea" stroke-width="1"/>
<polyline points="690.6,775.5 716.1,754.1 741.6,746 767.1,741.7 792.6,739.3" fill="none" stroke="#f5a623" stroke-width="1"/>
<polyline points="690.6,761.45 716.1,721.9 741.6,714.55 767.1,713.5 792.6,712.9" fill="none" stroke="#2ca02c" stroke-width="1"/>
<g fill="#a8d8ea"><circle cx="716.1" cy="733" r="1.5"/><circle cx="741.6" cy="729.3" r="1.5"/><circle cx="767.1" cy="728.6" r="1.5"/><circle cx="792.6" cy="728.6" r="1.5"/><circle cx="690.6" cy="763.1" r="1.5"/></g>
<g fill="#f5a623"><circle cx="716.1" cy="754.1" r="1.5"/><circle cx="741.6" cy="746" r="1.5"/><circle cx="767.1" cy="741.7" r="1.5"/><circle cx="792.6" cy="739.3" r="1.5"/><circle cx="690.6" cy="775.5" r="1.5"/></g>
<g fill="#2ca02c"><circle cx="716.1" cy="721.9" r="1.3"/><circle cx="741.6" cy="714.55" r="1.3"/><circle cx="767.1" cy="713.5" r="1.3"/><circle cx="792.6" cy="712.9" r="1.3"/><circle cx="690.6" cy="761.45" r="1.3"/></g>
<g font-size="8">
<text x="688" y="711.2" class="s e" font-size="8">0.30</text><text x="688" y="727.95" class="s e" font-size="8">0.25</text><text x="688" y="744.7" class="s e" font-size="8">0.20</text><text x="688" y="761.45" class="s e" font-size="8">0.15</text><text x="688" y="778.2" class="s e" font-size="8">0.10</text>
<text x="690.6" y="785" class="s m" font-size="8">5</text><text x="716.1" y="785" class="s m" font-size="8">10</text><text x="741.6" y="785" class="s m" font-size="8">15</text><text x="767.1" y="785" class="s m" font-size="8">20</text><text x="792.6" y="785" class="s m" font-size="8">25</text>
</g>
<text x="742" y="797" class="s m" font-size="8"><tspan class="i">||θ||</tspan>: norm of weight</text>
<g transform="translate(658,745) rotate(-90)">
<text x="0" y="-9" class="s m" font-size="7.5">ϕ*: angle with</text>
<text x="0" y="0" class="s m" font-size="7.5">minimum loss</text>
<text x="0" y="9" class="s m" font-size="7.5">[π radian]</text>
</g>
<line x1="797.5" y1="720.4" x2="815.8" y2="720.4" stroke="#888" stroke-width="1"/><rect x="805" y="718.9" width="3" height="3" fill="#888"/>
<line x1="797.5" y1="733.7" x2="815.8" y2="733.7" stroke="#a8d8ea" stroke-width="1"/><circle cx="806.6" cy="733.7" r="1.6" fill="#a8d8ea"/>
<line x1="797.5" y1="747" x2="815.8" y2="747" stroke="#f5a623" stroke-width="1"/><path d="M806.6,745 L808.5,748.5 L804.7,748.5 Z" fill="#f5a623"/>
<line x1="797.5" y1="760.7" x2="815.8" y2="760.7" stroke="#2ca02c" stroke-width="1"/>
<text x="822" y="720.4" class="s" font-size="8">SVM</text>
<text x="822" y="733.7" class="s" font-size="8">GenLabel</text>
<text x="822" y="747" class="s" font-size="8">vanilla</text>
<text x="822" y="760.7" class="s" font-size="8">mixup</text>

<text x="449.4" y="833.7" class="b" font-size="14.5" textLength="326" lengthAdjust="spacingAndGlyphs">2. GenLabel improves the robustness of mixup</text>
<text x="463" y="855" font-size="14.5" textLength="333" lengthAdjust="spacingAndGlyphs"><tspan class="b">[Thm]</tspan> For logistic regression &amp; FC ReLU networks,</text>
<text x="482.7" y="883.5" font-size="14.5" textLength="356" lengthAdjust="spacingAndGlyphs">mixup loss ≥ mixup+<tspan class="b" style="fill:#3d85e8">GenLabel</tspan> loss ≥ adversarial loss</text>

<!-- ============ COLUMN 3 ============ -->
<rect x="886" y="237.5" width="662" height="27.5" rx="9" fill="#d9cbe1"/>
<text x="1105.4" y="251.5" class="b" font-size="19" textLength="198.5" lengthAdjust="spacingAndGlyphs">Experimental Results</text>

<text x="888" y="284" font-size="16" textLength="277" lengthAdjust="spacingAndGlyphs"><tspan class="b">OpenML:</tspan> Generalization performance</text>
<text x="1253.7" y="285" font-size="16" textLength="242" lengthAdjust="spacingAndGlyphs"><tspan class="b">OpenML:</tspan> Adversarial robustness</text>

<!-- Table 1 -->
<rect x="885" y="381" width="346" height="34" fill="#dcdcdc"/>
<line x1="885" y1="302" x2="1231" y2="302" stroke="#111" stroke-width="1.1"/>
<line x1="885" y1="320" x2="1231" y2="320" stroke="#111" stroke-width="0.9"/>
<line x1="885" y1="418" x2="1231" y2="418" stroke="#111" stroke-width="1.7"/>
<g stroke="#111" stroke-width="0.5">
<path d="M1010,304V318 M1041.5,304V318 M1073,304V318 M1104.5,304V318 M1136,304V318 M1167.5,304V318 M1199,304V318"/>
<path d="M1010,324V381 M1041.5,324V381 M1073,324V381 M1104.5,324V381 M1136,324V381 M1167.5,324V381 M1199,324V381"/>
</g>
<text x="889" y="311" class="s" font-size="9">Methods \ Dataset ID</text>
<g font-size="9">
<text x="1025.75" y="311" class="s m" font-size="9">721</text><text x="1057.25" y="311" class="s m" font-size="9">777</text><text x="1088.75" y="311" class="s m" font-size="9">792</text><text x="1120.25" y="311" class="s m" font-size="9">830</text><text x="1151.75" y="311" class="s m" font-size="9">855</text><text x="1183.25" y="311" class="s m" font-size="9">913</text><text x="1214.75" y="311" class="s m" font-size="9">1413</text>
</g>
<g>
<text x="889" y="329.7" class="s b" font-size="8.8">Generative Classifier (GM)</text>
<text x="889" y="341" class="s b" font-size="8.8">Vanilla</text>
<text x="889" y="352.3" class="s b" font-size="8.8">AdaMixup</text>
<text x="889" y="363.6" class="s b" font-size="8.8">Mixup</text>
<text x="889" y="374.9" class="s b" font-size="8.8">Mixup + Excluding MI</text>
<text x="889" y="386.2" class="s b" font-size="8.8">Mixup + GenLabel (GM)</text>
<text x="889" y="397.5" class="s b" font-size="8.8">Mixup + GenLabel (KDE)</text>
<text x="889" y="408.8" class="s b" font-size="8.8">Mixup + GenLabel (CV)</text>
</g>
<g class="s">
<text x="1025.75" y="329.7" class="s m" font-size="9">78.33</text><text x="1057.25" y="329.7" class="s m" font-size="9">53.33</text><text x="1088.75" y="329.7" class="s m" font-size="9">74.67</text><text x="1120.25" y="329.7" class="s m" font-size="9">78.67</text><text x="1151.75" y="329.7" class="s m" font-size="9">65.33</text><text x="1183.25" y="329.7" class="s m" font-size="9">71.33</text><text x="1214.75" y="329.7" class="s m" font-size="9">95.56</text>
<text x="1025.75" y="341" class="s m" font-size="9">79.67</text><text x="1057.25" y="341" class="s m" font-size="9">58.67</text><text x="1088.75" y="341" class="s m" font-size="9">73.20</text><text x="1120.25" y="341" class="s m" font-size="9">77.60</text><text x="1151.75" y="341" class="s m" font-size="9">63.33</text><text x="1183.25" y="341" class="s m" font-size="9">70.80</text><text x="1214.75" y="341" class="s m" font-size="9">95.56</text>
<text x="1025.75" y="352.3" class="s m" font-size="9">80.33</text><text x="1057.25" y="352.3" class="s m b" font-size="9">64.00</text><text x="1088.75" y="352.3" class="s m" font-size="9">73.87</text><text x="1120.25" y="352.3" class="s m" font-size="9">78.40</text><text x="1151.75" y="352.3" class="s m" font-size="9">66.67</text><text x="1183.25" y="352.3" class="s m" font-size="9">70.53</text><text x="1214.75" y="352.3" class="s m" font-size="9">92.44</text>
<text x="1025.75" y="363.6" class="s m" font-size="9">79.33</text><text x="1057.25" y="363.6" class="s m" font-size="9">62.67</text><text x="1088.75" y="363.6" class="s m" font-size="9">73.47</text><text x="1120.25" y="363.6" class="s m" font-size="9">76.27</text><text x="1151.75" y="363.6" class="s m" font-size="9">66.00</text><text x="1183.25" y="363.6" class="s m" font-size="9">69.87</text><text x="1214.75" y="363.6" class="s m" font-size="9">88.00</text>
<text x="1025.75" y="374.9" class="s m" font-size="9">79.67</text><text x="1057.25" y="374.9" class="s m" font-size="9">62.67</text><text x="1088.75" y="374.9" class="s m" font-size="9">74.53</text><text x="1120.25" y="374.9" class="s m" font-size="9">78.13</text><text x="1151.75" y="374.9" class="s m" font-size="9">66.40</text><text x="1183.25" y="374.9" class="s m" font-size="9">71.47</text><text x="1214.75" y="374.9" class="s m" font-size="9">93.33</text>
<text x="1025.75" y="386.2" class="s m b" font-size="9">81.00</text><text x="1057.25" y="386.2" class="s m" font-size="9">58.67</text><text x="1088.75" y="386.2" class="s m" font-size="9">75.47</text><text x="1120.25" y="386.2" class="s m b" font-size="9">86.13</text><text x="1151.75" y="386.2" class="s m" font-size="9">66.40</text><text x="1183.25" y="386.2" class="s m" font-size="9">71.47</text><text x="1214.75" y="386.2" class="s m" font-size="9">96.00</text>
<text x="1025.75" y="397.5" class="s m" font-size="9">79.67</text><text x="1057.25" y="397.5" class="s m" font-size="9">58.67</text><text x="1088.75" y="397.5" class="s m b" font-size="9">75.87</text><text x="1120.25" y="397.5" class="s m" font-size="9">77.33</text><text x="1151.75" y="397.5" class="s m b" font-size="9">67.60</text><text x="1183.25" y="397.5" class="s m" font-size="9">72.67</text><text x="1214.75" y="397.5" class="s m" font-size="9">96.00</text>
<text x="1025.75" y="408.8" class="s m" font-size="9">80.33</text><text x="1057.25" y="408.8" class="s m b" font-size="9">64.00</text><text x="1088.75" y="408.8" class="s m" font-size="9">75.60</text><text x="1120.25" y="408.8" class="s m" font-size="9">84.53</text><text x="1151.75" y="408.8" class="s m b" font-size="9">67.33</text><text x="1183.25" y="408.8" class="s m b" font-size="9">73.20</text><text x="1214.75" y="408.8" class="s m b" font-size="9">96.44</text>
</g>

<!-- Table 2 -->
<rect x="1252" y="372" width="296" height="22" fill="#dcdcdc"/>
<line x1="1252" y1="305" x2="1548" y2="305" stroke="#111" stroke-width="1.1"/>
<line x1="1252" y1="323" x2="1548" y2="323" stroke="#111" stroke-width="0.9"/>
<line x1="1252" y1="397.6" x2="1548" y2="397.6" stroke="#111" stroke-width="1.7"/>
<g stroke="#111" stroke-width="0.5">
<path d="M1367,307V321 M1397.2,307V321 M1427.4,307V321 M1457.6,307V321 M1487.8,307V321 M1518,307V321"/>
<path d="M1367,326V371 M1397.2,326V371 M1427.4,326V371 M1457.6,326V371 M1487.8,326V371 M1518,326V371"/>
</g>
<text x="1255" y="314" class="s" font-size="9">Methods \ OpenML ID</text>
<text x="1382.1" y="314" class="s m" font-size="9">446</text><text x="1412.3" y="314" class="s m" font-size="9">468</text><text x="1442.5" y="314" class="s m" font-size="9">683</text><text x="1472.7" y="314" class="s m" font-size="9">755</text><text x="1502.9" y="314" class="s m" font-size="9">763</text><text x="1533.1" y="314" class="s m" font-size="9">1413</text>
<text x="1255" y="332" class="s b" font-size="8.8">Vanilla</text>
<text x="1255" y="343.2" class="s b" font-size="8.8">AdaMixup</text>
<text x="1255" y="354.4" class="s b" font-size="8.8">Mixup</text>
<text x="1255" y="365.6" class="s b" font-size="8.8">Mixup + Excluding MI</text>
<text x="1255" y="376.8" class="s b" font-size="8.8">Mixup + GenLabel (GM)</text>
<text x="1255" y="388" class="s b" font-size="8.8">Mixup + GenLabel (NN)</text>
<text x="1382.1" y="332" class="s m" font-size="8.8">29.67</text><text x="1412.3" y="332" class="s m" font-size="8.8">34.55</text><text x="1442.5" y="332" class="s m" font-size="8.8">51.11</text><text x="1472.7" y="332" class="s m" font-size="8.8">41.05</text><text x="1502.9" y="332" class="s m" font-size="8.8">64.27</text><text x="1533.1" y="332" class="s m" font-size="8.8">68.00</text>
<text x="1382.1" y="343.2" class="s m" font-size="8.8">30.33</text><text x="1412.3" y="343.2" class="s m" font-size="8.8">37.27</text><text x="1442.5" y="343.2" class="s m" font-size="8.8">51.11</text><text x="1472.7" y="343.2" class="s m" font-size="8.8">37.89</text><text x="1502.9" y="343.2" class="s m" font-size="8.8">63.20</text><text x="1533.1" y="343.2" class="s m" font-size="8.8">67.11</text>
<text x="1382.1" y="354.4" class="s m" font-size="8.8">30.67</text><text x="1412.3" y="354.4" class="s m" font-size="8.8">37.27</text><text x="1442.5" y="354.4" class="s m" font-size="8.8">50.00</text><text x="1472.7" y="354.4" class="s m" font-size="8.8">36.84</text><text x="1502.9" y="354.4" class="s m" font-size="8.8">65.07</text><text x="1533.1" y="354.4" class="s m" font-size="8.8">67.56</text>
<text x="1382.1" y="365.6" class="s m" font-size="8.8">31.67</text><text x="1412.3" y="365.6" class="s m" font-size="8.8">31.82</text><text x="1442.5" y="365.6" class="s m b" font-size="8.8">52.22</text><text x="1472.7" y="365.6" class="s m" font-size="8.8">38.95</text><text x="1502.9" y="365.6" class="s m" font-size="8.8">63.20</text><text x="1533.1" y="365.6" class="s m" font-size="8.8">70.67</text>
<text x="1382.1" y="376.8" class="s m" font-size="8.8">37.00</text><text x="1412.3" y="376.8" class="s m b" font-size="8.8">42.73</text><text x="1442.5" y="376.8" class="s m b" font-size="8.8">52.22</text><text x="1472.7" y="376.8" class="s m b" font-size="8.8">43.16</text><text x="1502.9" y="376.8" class="s m" font-size="8.8">61.87</text><text x="1533.1" y="376.8" class="s m" font-size="8.8">71.11</text>
<text x="1382.1" y="388" class="s m b" font-size="8.8">38.00</text><text x="1412.3" y="388" class="s m" font-size="8.8">32.73</text><text x="1442.5" y="388" class="s m" font-size="8.8">46.67</text><text x="1472.7" y="388" class="s m b" font-size="8.8">43.16</text><text x="1502.9" y="388" class="s m b" font-size="8.8">66.93</text><text x="1533.1" y="388" class="s m b" font-size="8.8">77.33</text>

<!-- Table 3 -->
<line x1="885" y1="431" x2="1230" y2="431" stroke="#111" stroke-width="1.1"/>
<line x1="885" y1="450" x2="1230" y2="450" stroke="#111" stroke-width="0.9"/>
<line x1="885" y1="516" x2="1230" y2="516" stroke="#111" stroke-width="1.5"/>
<g stroke="#111" stroke-width="0.5"><path d="M1026,433V448 M1096,433V448 M1161,433V448 M1026,453V513 M1096,453V513 M1161,453V513"/></g>
<text x="888" y="440.5" class="s" font-size="9"><tspan class="b">Mixup+GenLabel (CV)</tspan> versus</text>
<text x="1061" y="440.5" class="s m b" font-size="9">Higher</text><text x="1128.5" y="440.5" class="s m b" font-size="9">On-par</text><text x="1195.5" y="440.5" class="s m b" font-size="9">Lower</text>
<text x="888" y="460" class="s b" font-size="9">Vanilla</text>
<text x="888" y="471.6" class="s b" font-size="9">Adamixup</text>
<text x="888" y="483.2" class="s b" font-size="9">Mixup</text>
<text x="888" y="494.8" class="s b" font-size="9">Mixup + Excluding MI</text>
<text x="888" y="506.4" class="s b" font-size="9">Generative Classifier (GM)</text>
<text x="1061" y="460" class="s m" font-size="9"><tspan class="b">47.56%</tspan> (50%)</text><text x="1128.5" y="460" class="s m" font-size="9">7.32% (30%)</text><text x="1195.5" y="460" class="s m" font-size="9">45.12% (20%)</text>
<text x="1061" y="471.6" class="s m" font-size="9"><tspan class="b">45.12%</tspan> (50%)</text><text x="1128.5" y="471.6" class="s m" font-size="9">9.76% (20%)</text><text x="1195.5" y="471.6" class="s m" font-size="9"><tspan class="b">45.12%</tspan> (30%)</text>
<text x="1061" y="483.2" class="s m" font-size="9"><tspan class="b">54.88%</tspan> (40%)</text><text x="1128.5" y="483.2" class="s m" font-size="9">7.32% (30%)</text><text x="1195.5" y="483.2" class="s m" font-size="9">35.37% (30%)</text>
<text x="1061" y="494.8" class="s m" font-size="9"><tspan class="b">53.66%</tspan> (50%)</text><text x="1128.5" y="494.8" class="s m" font-size="9">6.10% (20%)</text><text x="1195.5" y="494.8" class="s m" font-size="9">39.02% (30%)</text>
<text x="1061" y="506.4" class="s m" font-size="9"><tspan class="b">52.42%</tspan> (70%)</text><text x="1128.5" y="506.4" class="s m" font-size="9">3.66% (10%)</text><text x="1195.5" y="506.4" class="s m" font-size="9">41.46% (20%)</text>

<!-- Table 4 -->
<line x1="1258" y1="434" x2="1548" y2="434" stroke="#111" stroke-width="1.1"/>
<line x1="1258" y1="455" x2="1548" y2="455" stroke="#111" stroke-width="0.9"/>
<line x1="1258" y1="513" x2="1548" y2="513" stroke="#111" stroke-width="1.5"/>
<g stroke="#111" stroke-width="0.5"><path d="M1416,436V452 M1462,436V452 M1508,436V452 M1416,458V510 M1462,458V510 M1508,458V510"/></g>
<text x="1261" y="444.5" class="s" font-size="9.5"><tspan class="b">Mixup+GenLabel (Best)</tspan> versus</text>
<text x="1439" y="444.5" class="s m b" font-size="9.5">Higher</text><text x="1485" y="444.5" class="s m b" font-size="9.5">On-par</text><text x="1528" y="444.5" class="s m b" font-size="9.5">Lower</text>
<text x="1261" y="465" class="s b" font-size="9.5">Vanilla</text>
<text x="1261" y="477.6" class="s b" font-size="9.5">Adamixup</text>
<text x="1261" y="490.2" class="s b" font-size="9.5">Mixup</text>
<text x="1261" y="502.8" class="s b" font-size="9.5">Mixup + Excluding MI</text>
<text x="1439" y="465" class="s m b" font-size="9.5">53.85%</text><text x="1485" y="465" class="s m" font-size="9.5">23.08%</text><text x="1528" y="465" class="s m" font-size="9.5">23.08%</text>
<text x="1439" y="477.6" class="s m b" font-size="9.5">61.54%</text><text x="1485" y="477.6" class="s m" font-size="9.5">7.69%</text><text x="1528" y="477.6" class="s m" font-size="9.5">30.77%</text>
<text x="1439" y="490.2" class="s m b" font-size="9.5">69.23%</text><text x="1485" y="490.2" class="s m" font-size="9.5">0.00%</text><text x="1528" y="490.2" class="s m" font-size="9.5">30.77%</text>
<text x="1439" y="502.8" class="s m b" font-size="9.5">69.23%</text><text x="1485" y="502.8" class="s m" font-size="9.5">0.00%</text><text x="1528" y="502.8" class="s m" font-size="9.5">30.77%</text>

<!-- Image datasets -->
<text x="885.3" y="548.5" font-size="16" textLength="327.6" lengthAdjust="spacingAndGlyphs"><tspan class="b">Image Datasets:</tspan> Generalization/Robustness</text>
<rect x="885" y="641" width="656" height="11.5" fill="#dcdcdc"/>
<rect x="885" y="664.5" width="656" height="11.5" fill="#dcdcdc"/>
<line x1="885" y1="564.5" x2="1541" y2="564.5" stroke="#111" stroke-width="1.1"/>
<line x1="1015" y1="583" x2="1541" y2="583" stroke="#111" stroke-width="0.5"/>
<line x1="885" y1="602" x2="1541" y2="602" stroke="#111" stroke-width="0.9"/>
<line x1="885" y1="679.5" x2="1541" y2="679.5" stroke="#111" stroke-width="1.1"/>
<g stroke="#111" stroke-width="0.5">
<path d="M1015,567V580 M1146.5,567V580 M1278,567V580 M1409.5,567V580"/>
<path d="M1015,587V600 M1080.75,587V600 M1146.5,587V600 M1212.25,587V600 M1278,587V600 M1343.75,587V600 M1409.5,587V600 M1475.25,587V600"/>
<path d="M1015,605V641 M1080.75,605V641 M1146.5,605V641 M1212.25,605V641 M1278,605V641 M1343.75,605V641 M1409.5,605V641 M1475.25,605V641"/>
<path d="M1015,653V664 M1080.75,653V664 M1146.5,653V664 M1212.25,653V664 M1278,653V664 M1343.75,653V664 M1409.5,653V664 M1475.25,653V664"/>
</g>
<text x="950" y="580" class="s m" font-size="9">Methods</text>
<text x="1080.75" y="573.7" class="s m" font-size="9">MNIST</text><text x="1212.25" y="573.7" class="s m" font-size="9">CIFAR-10</text><text x="1343.75" y="573.7" class="s m" font-size="9">CIFAR-100</text><text x="1475.25" y="573.7" class="s m" font-size="9">TinyImageNet-200</text>
<text x="1047.9" y="592.6" class="s m" font-size="9">Robust</text><text x="1113.6" y="592.6" class="s m" font-size="9">Clean</text><text x="1179.4" y="592.6" class="s m" font-size="9">Robust</text><text x="1245.1" y="592.6" class="s m" font-size="9">Clean</text><text x="1310.9" y="592.6" class="s m" font-size="9">Robust</text><text x="1376.6" y="592.6" class="s m" font-size="9">Clean</text><text x="1442.4" y="592.6" class="s m" font-size="9">Robust</text><text x="1508.1" y="592.6" class="s m" font-size="9">Clean</text>
<text x="888" y="611.5" class="s b" font-size="9">Vanilla</text>
<text x="888" y="623.2" class="s b" font-size="9">AdaMixup</text>
<text x="888" y="634.9" class="s b" font-size="9">Mixup</text>
<text x="888" y="646.6" class="s b" font-size="9">Mixup+GenLabel</text>
<text x="888" y="658.3" class="s b" font-size="9">Manifold mixup</text>
<text x="888" y="670" class="s b" font-size="9" textLength="124" lengthAdjust="spacingAndGlyphs">Manifold mixup+GenLabel</text>
<g>
<text x="1047.9" y="611.5" class="s m" font-size="8.8">48.17 ± 13.1</text><text x="1113.6" y="611.5" class="s m" font-size="8.8">99.34 ± 0.03</text><text x="1179.4" y="611.5" class="s m" font-size="8.8">16.89 ± 0.98</text><text x="1245.1" y="611.5" class="s m" font-size="8.8">94.57 ± 0.25</text><text x="1310.9" y="611.5" class="s m" font-size="8.8">17.19 ± 0.20</text><text x="1376.6" y="611.5" class="s m" font-size="8.8">74.48 ± 0.28</text><text x="1442.4" y="611.5" class="s m" font-size="8.8">13.19 ± 0.19</text><text x="1508.1" y="611.5" class="s m" font-size="8.8">58.13 ± 0.09</text>
<text x="1047.9" y="623.2" class="s m" font-size="8.8">-</text><text x="1113.6" y="623.2" class="s m" font-size="8.8">99.32 ± 0.05</text><text x="1179.4" y="623.2" class="s m" font-size="8.8">-</text><text x="1245.1" y="623.2" class="s m" font-size="8.8">95.45 ± 0.13</text><text x="1310.9" y="623.2" class="s m" font-size="8.8">-</text><text x="1376.6" y="623.2" class="s m" font-size="8.8">-</text><text x="1442.4" y="623.2" class="s m" font-size="8.8">-</text><text x="1508.1" y="623.2" class="s m" font-size="8.8">-</text>
<text x="1047.9" y="634.9" class="s m" font-size="8.8">55.44 ± 1.80</text><text x="1113.6" y="634.9" class="s m" font-size="8.8">99.27 ± 0.03</text><text x="1179.4" y="634.9" class="s m" font-size="8.8">11.65 ± 1.96</text><text x="1245.1" y="634.9" class="s m" font-size="8.8">95.68 ± 0.06</text><text x="1310.9" y="634.9" class="s m" font-size="8.8">18.44 ± 0.45</text><text x="1376.6" y="634.9" class="s m" font-size="8.8">77.65 ± 0.30</text><text x="1442.4" y="634.9" class="s m" font-size="8.8">14.91 ± 0.48</text><text x="1508.1" y="634.9" class="s m" font-size="8.8">59.46 ± 0.30</text>
<text x="1047.9" y="646.6" class="s m" font-size="8.8">56.54 ± 1.03</text><text x="1113.6" y="646.6" class="s m" font-size="8.8">99.36 ± 0.06</text><text x="1179.4" y="646.6" class="s m" font-size="8.8">14.32 ± 1.23</text><text x="1245.1" y="646.6" class="s m" font-size="8.8"><tspan class="b">96.09</tspan> ± 0.01</text><text x="1310.9" y="646.6" class="s m" font-size="8.8"><tspan class="b">19.58</tspan> ± 0.71</text><text x="1376.6" y="646.6" class="s m" font-size="8.8">78.04 ± 0.21</text><text x="1442.4" y="646.6" class="s m" font-size="8.8"><tspan class="b">15.34</tspan> ± 0.30</text><text x="1508.1" y="646.6" class="s m" font-size="8.8">59.78 ± 0.09</text>
<text x="1047.9" y="658.3" class="s m" font-size="8.8">55.56 ± 1.53</text><text x="1113.6" y="658.3" class="s m" font-size="8.8">99.32 ± 0.04</text><text x="1179.4" y="658.3" class="s m" font-size="8.8">18.14 ± 1.88</text><text x="1245.1" y="658.3" class="s m" font-size="8.8">94.78 ± 0.49</text><text x="1310.9" y="658.3" class="s m" font-size="8.8">19.25 ± 0.61</text><text x="1376.6" y="658.3" class="s m" font-size="8.8">78.61 ± 0.17</text><text x="1442.4" y="658.3" class="s m" font-size="8.8">14.78 ± 0.28</text><text x="1508.1" y="658.3" class="s m" font-size="8.8">59.87 ± 0.63</text>
<text x="1047.9" y="670" class="s m" font-size="8.8"><tspan class="b">56.62</tspan> ± 1.31</text><text x="1113.6" y="670" class="s m" font-size="8.8"><tspan class="b">99.37</tspan> ± 0.07</text><text x="1179.4" y="670" class="s m" font-size="8.8"><tspan class="b">18.91</tspan> ± 1.26</text><text x="1245.1" y="670" class="s m" font-size="8.8">95.10 ± 0.10</text><text x="1310.9" y="670" class="s m" font-size="8.8">19.28 ± 1.04</text><text x="1376.6" y="670" class="s m" font-size="8.8"><tspan class="b">78.99</tspan> ± 0.54</text><text x="1442.4" y="670" class="s m" font-size="8.8">15.19 ± 0.22</text><text x="1508.1" y="670" class="s m" font-size="8.8"><tspan class="b">60.02</tspan> ± 0.25</text>
</g>

<!-- Summary -->
<rect x="886" y="702" width="651" height="27.5" rx="9" fill="#d9cbe1"/>
<text x="1105" y="715.8" class="b" font-size="19" textLength="215.7" lengthAdjust="spacingAndGlyphs">Summary &amp; Takeaways</text>
<text x="889" y="752.7" font-size="14">•</text>
<text x="900.4" y="752.7" font-size="14.5" textLength="198" lengthAdjust="spacingAndGlyphs">Mixup fails due to two reasons</text>
<text x="913" y="773" font-size="14">•</text>
<text x="925.2" y="773" font-size="14.5" textLength="296.5" lengthAdjust="spacingAndGlyphs"><tspan class="b">Manifold intrusion</tspan> reduces margin/accuracy</text>
<text x="913" y="793" font-size="14">•</text>
<text x="925.2" y="793" font-size="14.5" textLength="199" lengthAdjust="spacingAndGlyphs"><tspan class="b">Linear labeling</tspan> is sub-optimal</text>
<text x="889" y="828" font-size="14">•</text>
<text x="900.4" y="828" font-size="14.5" textLength="329" lengthAdjust="spacingAndGlyphs">Suggested GenLabel, using the information on the</text>
<text x="900.4" y="848" font-size="14.5" textLength="328" lengthAdjust="spacingAndGlyphs"><tspan class="b">underlying distribution</tspan> to relabel mixup samples</text>
<text x="889" y="882" font-size="14">•</text>
<text x="900.4" y="882" font-size="14.5" textLength="376.8" lengthAdjust="spacingAndGlyphs">GenLabel improves margin/accuracy/robustness of mixup</text>

<!-- smiley -->
<g>
<rect x="1294" y="752" width="48" height="46" fill="#44cc33" stroke="#111" stroke-width="1.5"/>
<g stroke="#111" stroke-width="5" stroke-linecap="round"><line x1="1294" y1="751" x2="1342" y2="799"/><line x1="1342" y1="751" x2="1294" y2="799"/></g>
<g stroke="#fff" stroke-width="3" stroke-linecap="round"><line x1="1294" y1="751" x2="1342" y2="799"/><line x1="1342" y1="751" x2="1294" y2="799"/></g>
<circle cx="1292" cy="749" r="3.5" fill="#fff" stroke="#111"/><circle cx="1344" cy="749" r="3.5" fill="#fff" stroke="#111"/>
<circle cx="1292" cy="801" r="3.5" fill="#fff" stroke="#111"/><circle cx="1344" cy="801" r="3.5" fill="#fff" stroke="#111"/>
<circle cx="1318" cy="775" r="18" fill="#f5e600" stroke="#111" stroke-width="1.5"/>
<ellipse cx="1312" cy="769" rx="2" ry="4" fill="#111"/><ellipse cx="1324" cy="769" rx="2" ry="4" fill="#111"/>
<path d="M1307,779 Q1318,791 1329,779" stroke="#111" stroke-width="2.5" fill="none"/>
</g>
<text x="1447" y="757" class="m" font-size="15.5" textLength="161" lengthAdjust="spacingAndGlyphs">Full version available at</text>
<text x="1447.9" y="776.6" class="m" font-size="15.5" textLength="144" lengthAdjust="spacingAndGlyphs">https://arxiv.org/pdf/</text>
<text x="1447.7" y="796" class="m" font-size="15.5" textLength="115" lengthAdjust="spacingAndGlyphs">2201.02354.pdf</text>

<!-- mail -->
<rect x="1294" y="826" width="49" height="49" rx="11" fill="url(#mg)"/>
<rect x="1302" y="840" width="33" height="22" fill="none" stroke="#fff" stroke-width="1.8"/>
<path d="M1302,840 L1318.5,854 L1335,840" stroke="#fff" stroke-width="1.8" fill="none"/>
<text x="1445.5" y="842" class="b m" font-size="16" textLength="107.5" lengthAdjust="spacingAndGlyphs">Jy-yong Sohn</text>
<text x="1445.5" y="862" class="m" font-size="15.5" textLength="167.8" lengthAdjust="spacingAndGlyphs">jysohn1108@gmail.com</text>
</svg>
</body></html>
